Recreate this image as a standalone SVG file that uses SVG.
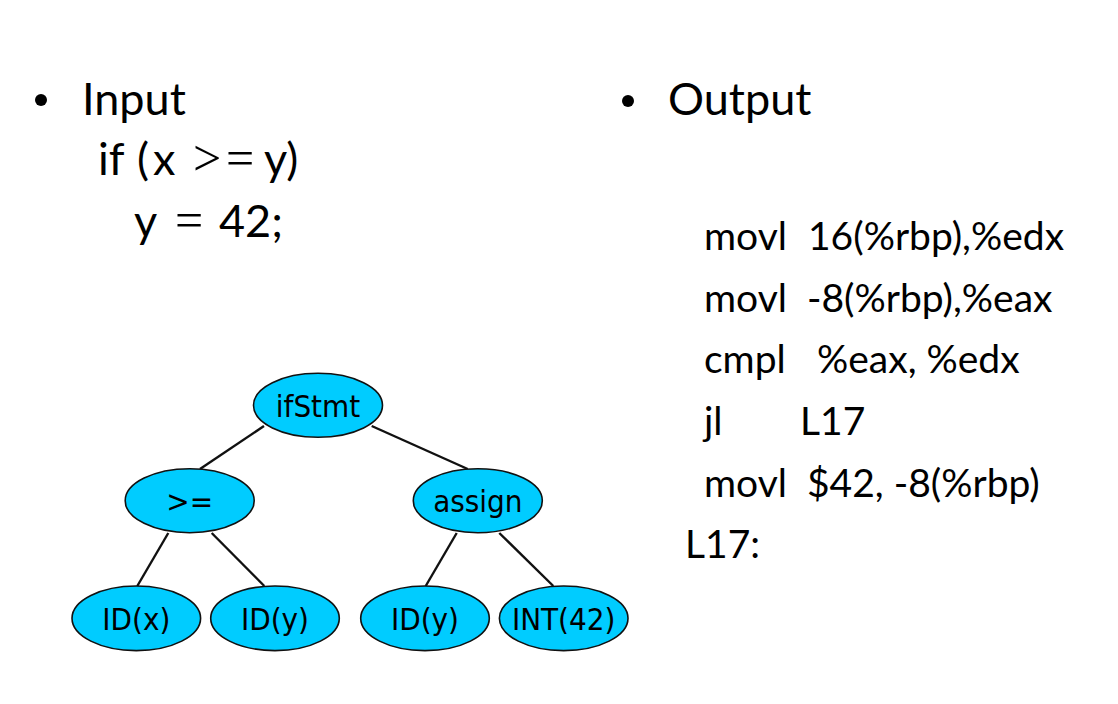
<svg xmlns="http://www.w3.org/2000/svg" width="1118" height="704" viewBox="0 0 1118 704">
<style>
.t{font-family:Lato,"Open Sans","Liberation Sans",sans-serif;fill:#000}
.h{font-size:45px}
.c{font-size:39px}
.m{font-family:"Liberation Serif","DejaVu Serif",serif;font-size:50px}
.n ellipse{fill:#00CCFF;stroke:#111;stroke-width:1.6}
.n text{font-family:"DejaVu Sans Condensed","DejaVu Sans",sans-serif;font-size:31px;text-anchor:middle;fill:#000}
#edges line{stroke:#111;stroke-width:2.4}
</style>
<rect width="1118" height="704" fill="#fff"/>
<g id="input">
<circle cx="41" cy="100" r="6"/>
<text class="t h" x="82" y="115">Input</text>
<text class="t h" y="175"><tspan x="98">if</tspan><tspan x="137">(</tspan><tspan x="153">x</tspan><tspan class="m" x="193">&gt;</tspan><tspan class="m" x="226">=</tspan><tspan x="264">y)</tspan></text>
<text class="t h" y="237"><tspan x="134">y</tspan><tspan class="m" x="175">=</tspan><tspan x="219">42;</tspan></text>
</g>
<g id="output">
<circle cx="628" cy="101" r="6"/>
<text class="t h" x="668" y="115">Output</text>
<text class="t c" x="704" y="250">movl</text><text class="t c" x="808" y="250">16(%rbp),%edx</text>
<text class="t c" x="704" y="312">movl</text><text class="t c" x="807" y="312">-8(%rbp),%eax</text>
<text class="t c" x="704" y="373">cmpl</text><text class="t c" x="817" y="373">%eax, %edx</text>
<text class="t c" x="704" y="435">jl</text><text class="t c" x="800" y="435">L17</text>
<text class="t c" x="704" y="497">movl</text><text class="t c" x="807" y="497">$42, -8(%rbp)</text>
<text class="t c" x="685" y="558">L17:</text>
</g>
<g id="edges">
<line x1="264" y1="426" x2="200" y2="469"/>
<line x1="371.7" y1="426" x2="467.7" y2="469"/>
<line x1="168.3" y1="533" x2="137.3" y2="586"/>
<line x1="211.7" y1="533" x2="264.3" y2="586"/>
<line x1="456.7" y1="533" x2="425.7" y2="586"/>
<line x1="499.3" y1="533" x2="553.3" y2="586"/>
</g>
<g id="ifStmt" class="n"><ellipse cx="318" cy="405.3" rx="64.5" ry="32"/><text x="318" y="416.5">ifStmt</text></g>
<g id="ge" class="n"><ellipse cx="189.7" cy="500.7" rx="64.5" ry="32"/><text x="189.7" y="512">&gt;=</text></g>
<g id="assign" class="n"><ellipse cx="477.8" cy="500.7" rx="64.5" ry="32"/><text x="477.8" y="512">assign</text></g>
<g id="idx" class="n"><ellipse cx="136.3" cy="618.3" rx="64.3" ry="32.3"/><text x="136.3" y="630">ID(x)</text></g>
<g id="idy1" class="n"><ellipse cx="275" cy="618.3" rx="64.3" ry="32.3"/><text x="275" y="630">ID(y)</text></g>
<g id="idy2" class="n"><ellipse cx="425" cy="618.3" rx="64.3" ry="32.3"/><text x="425" y="630">ID(y)</text></g>
<g id="int42" class="n"><ellipse cx="563.7" cy="618.3" rx="64.3" ry="32.3"/><text x="563.7" y="630">INT(42)</text></g>
</svg>
